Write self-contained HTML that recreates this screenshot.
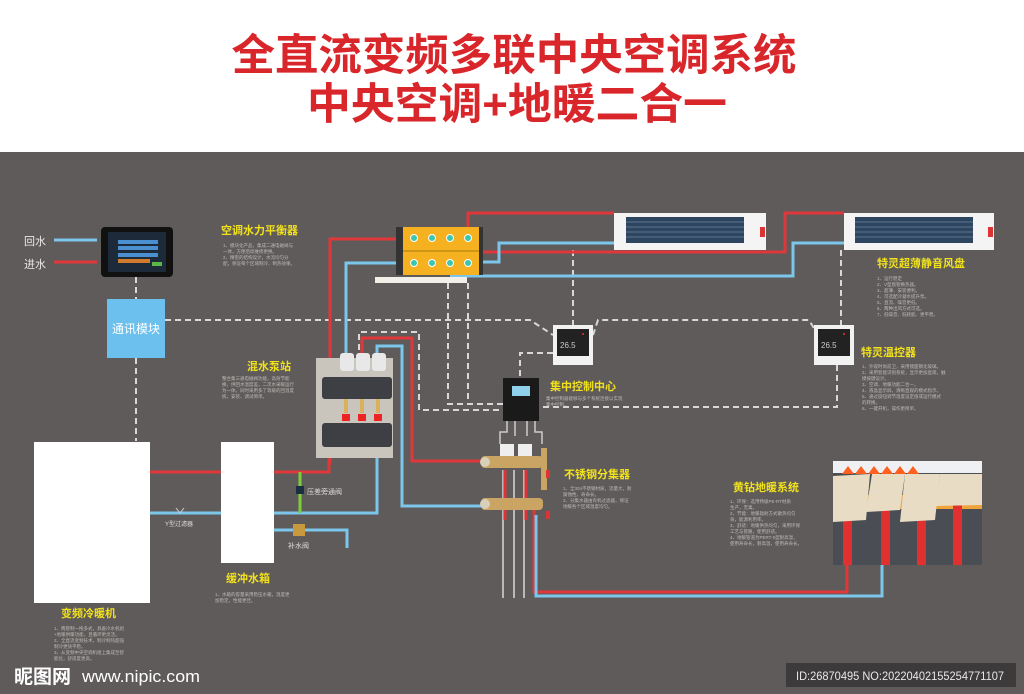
<!DOCTYPE html>
<html><head><meta charset="utf-8"><style>
html,body{margin:0;padding:0;background:#5f5b5a;}
svg{display:block;font-family:"Liberation Sans","Noto Sans CJK SC",sans-serif;}
.y{fill:#f2e21c;font-weight:bold;}
.s{fill:#bdbab8;font-size:4.5px;}
.d{stroke:#d8d8d8;stroke-width:2;stroke-dasharray:6,4;fill:none;}
.r{stroke:#e0373a;stroke-width:3;fill:none;}
.b{stroke:#7cc6ec;stroke-width:3;fill:none;}
</style></head><body>
<svg width="1024" height="694" viewBox="0 0 1024 694">
<rect width="1024" height="694" fill="#5f5b5a"/>
<rect width="1024" height="152" fill="#ffffff"/>
<text x="514" y="70" text-anchor="middle" font-size="43" fill="#d9262a" font-weight="bold" textLength="565" lengthAdjust="spacingAndGlyphs">全直流变频多联中央空调系统</text>
<text x="517" y="119" text-anchor="middle" font-size="43" fill="#d9262a" font-weight="bold" textLength="420" lengthAdjust="spacingAndGlyphs">中央空调+地暖二合一</text>

<!-- legend -->
<text x="24" y="245" font-size="11" fill="#e8e8e8">回水</text>
<text x="24" y="268" font-size="11" fill="#e8e8e8">进水</text>
<line x1="54" y1="240" x2="97" y2="240" class="b"/>
<line x1="54" y1="262" x2="97" y2="262" class="r"/>
<!-- tablet -->
<rect x="101" y="227" width="72" height="50" rx="4" fill="#111"/>
<rect x="108" y="232" width="58" height="40" fill="#1c2a3a"/>
<g fill="#4a8fd0"><rect x="118" y="240" width="40" height="4"/><rect x="118" y="246" width="40" height="4"/><rect x="118" y="253" width="40" height="4"/></g>
<g fill="#d07a30"><rect x="118" y="259" width="32" height="4"/></g><rect x="152" y="262" width="10" height="4" fill="#5ab84a"/>

<!-- dashed control lines -->
<path class="d" d="M136 277V299 M136 358V441"/>
<path class="d" d="M165 320H530L553 335"/>
<path class="d" d="M593 335L598 320H809L815 330"/>
<path class="d" d="M573 250V325 M841 250V325 M837 365V407H540"/>
<path class="d" d="M448 283V404H503 M468 283V400"/>
<path class="d" d="M553 353H520V378"/>
<path class="d" d="M359 360V332H419V410H503"/>
<rect x="107" y="299" width="58" height="59" fill="#6cc0ee"/>
<text x="136" y="333" text-anchor="middle" font-size="12" fill="#fff">通讯模块</text>

<!-- balancer pipes -->
<path class="r" d="M330 465V239H396"/>
<path class="b" d="M346 358V263H396"/>
<path class="r" d="M468 238V213H614"/>
<path class="r" d="M450 264V252H785V213H844"/>
<path class="b" d="M468 262H499V243H614"/>
<path class="b" d="M450 276H793V243H844"/>
<!-- balancer -->
<rect x="396" y="227" width="8" height="48" fill="#333"/>
<rect x="403" y="227" width="76" height="48" fill="#f5b120"/>
<line x1="403" y1="251" x2="479" y2="251" stroke="#a87a10"/>
<rect x="479" y="227" width="4" height="48" fill="#333"/>
<g fill="#3cc6b0" stroke="#fff" stroke-width="1"><circle cx="414" cy="238" r="3.5"/><circle cx="432" cy="238" r="3.5"/><circle cx="450" cy="238" r="3.5"/><circle cx="468" cy="238" r="3.5"/><circle cx="414" cy="263" r="3.5"/><circle cx="432" cy="263" r="3.5"/><circle cx="450" cy="263" r="3.5"/><circle cx="468" cy="263" r="3.5"/></g>
<rect x="375" y="277" width="92" height="6" fill="#f2efe8"/>
<text x="221" y="234" class="y" font-size="11">空调水力平衡器</text>
<text class="s"><tspan x="223" y="247">1、模块化产品，集成二通电磁阀与</tspan><tspan x="223" y="253">一体，方便后续维修更换。</tspan><tspan x="223" y="259">2、精密的结构设计，水流均匀分</tspan><tspan x="223" y="265">配，保证每个区域制冷、制热效果。</tspan></text>

<!-- fan coils -->
<g><rect x="614" y="213" width="152" height="37" fill="#f4f4f4"/><rect x="626" y="217" width="118" height="26" fill="#2e4560"/>
<g stroke="#5b7794" stroke-width="1"><line x1="626" y1="222" x2="744" y2="222"/><line x1="626" y1="227" x2="744" y2="227"/><line x1="626" y1="232" x2="744" y2="232"/><line x1="626" y1="237" x2="744" y2="237"/></g>
<rect x="760" y="227" width="5" height="10" fill="#d33"/></g>
<g><rect x="844" y="213" width="150" height="37" fill="#f4f4f4"/><rect x="855" y="217" width="118" height="26" fill="#2e4560"/>
<g stroke="#5b7794" stroke-width="1"><line x1="855" y1="222" x2="973" y2="222"/><line x1="855" y1="227" x2="973" y2="227"/><line x1="855" y1="232" x2="973" y2="232"/><line x1="855" y1="237" x2="973" y2="237"/></g>
<rect x="988" y="227" width="5" height="10" fill="#d33"/></g>
<text x="877" y="267" class="y" font-size="11">特灵超薄静音风盘</text>
<text class="s"><tspan x="877" y="280">1、运行稳定</tspan><tspan x="877" y="286">2、V型盘管换热器。</tspan><tspan x="877" y="292">3、超薄、安装便利。</tspan><tspan x="877" y="298">4、可选配冷凝水提升泵。</tspan><tspan x="877" y="304">5、直流、噪音更低。</tspan><tspan x="877" y="310">6、两种出风方式可选。</tspan><tspan x="877" y="316">7、低噪音、低耗能、更平稳。</tspan></text>

<!-- thermostats -->
<g><rect x="553" y="325" width="40" height="40" fill="#f2f2f2"/><rect x="557" y="329" width="32" height="27" fill="#222"/><text x="560" y="348" font-size="8" fill="#ccc">26.5</text><circle cx="583" cy="334" r="1" fill="#e33"/></g>
<g><rect x="814" y="325" width="40" height="40" fill="#f2f2f2"/><rect x="818" y="329" width="32" height="27" fill="#222"/><text x="821" y="348" font-size="8" fill="#ccc">26.5</text><circle cx="844" cy="334" r="1" fill="#e33"/></g>
<text x="861" y="356" class="y" font-size="11">特灵温控器</text>
<text class="s"><tspan x="862" y="368">1、外观时尚前卫，采用镜面钢化玻璃。</tspan><tspan x="862" y="374">2、采用智能识别系统，显示更加直观，触</tspan><tspan x="862" y="380">摸按键设计。</tspan><tspan x="862" y="386">3、空调、地暖功能二合一。</tspan><tspan x="862" y="392">4、液晶显示屏，清晰直观的模式指示。</tspan><tspan x="862" y="398">5、通过旋钮调节温度设定值或运行模式</tspan><tspan x="862" y="404">的转换。</tspan><tspan x="862" y="410">6、一键开机，操作更简单。</tspan></text>

<!-- control center -->
<rect x="503" y="378" width="36" height="43" fill="#1a1a1a"/>
<rect x="512" y="386" width="18" height="10" fill="#8fd0ea"/>
<text x="550" y="390" class="y" font-size="11">集中控制中心</text>
<text class="s"><tspan x="546" y="400">集中控制器能够与多个系统连接以实现</tspan><tspan x="546" y="406">集中控制。</tspan></text>
<path d="M507 421V432H500V444 M515 421V436 M527 421V436 M535 421V432H542V444" stroke="#ccc" stroke-width="1.5" fill="none"/>

<!-- mixing pipes -->
<path class="r" d="M362 360V338H412V461H481"/>
<path class="b" d="M377 360V346H402V506H481"/>
<!-- mixing station -->
<rect x="316" y="358" width="77" height="100" fill="#c9c4bc"/>
<rect x="322" y="377" width="70" height="22" rx="3" fill="#3d3f44"/>
<rect x="322" y="423" width="70" height="24" rx="3" fill="#3d3f44"/>
<g fill="#e8e8e8"><rect x="340" y="353" width="14" height="18" rx="3"/><rect x="356" y="353" width="14" height="18" rx="3"/><rect x="372" y="353" width="14" height="18" rx="3"/></g>
<g fill="#e22"><rect x="342" y="414" width="8" height="7"/><rect x="358" y="414" width="8" height="7"/><rect x="374" y="414" width="8" height="7"/></g>
<g fill="#d8b060"><rect x="344" y="399" width="4" height="14"/><rect x="360" y="399" width="4" height="14"/><rect x="376" y="399" width="4" height="14"/></g>
<text x="247" y="370" class="y" font-size="11">混水泵站</text>
<text class="s"><tspan x="222" y="380">整合集三通电磁阀功能，高效节能</tspan><tspan x="222" y="386">换，供回水温度差，二次水采暖运行</tspan><tspan x="222" y="392">为一体。同时采用多了等级的回温度</tspan><tspan x="222" y="398">统，安装、调试简单。</tspan></text>

<!-- chiller & buffer -->
<rect x="34" y="442" width="116" height="161" fill="#fff"/>
<rect x="221" y="442" width="53" height="121" fill="#fff"/>
<path class="r" d="M150 472H221 M274 472H329V458"/>
<path class="b" d="M150 513H221 M274 513H377V458"/>
<path class="b" d="M274 530H347V548"/>
<line x1="300" y1="472" x2="300" y2="513" stroke="#7ccf3a" stroke-width="3"/>
<rect x="296" y="486" width="8" height="8" fill="#1a3040"/>
<text x="307" y="494" font-size="7" fill="#ddd">压差旁通阀</text>
<rect x="293" y="524" width="12" height="12" fill="#c89a40"/>
<text x="288" y="548" font-size="7" fill="#ddd">补水阀</text>
<path d="M176 508l4 5 4-5" stroke="#ccc" fill="none"/>
<text x="165" y="526" font-size="6" fill="#ddd">Y型过滤器</text>
<text x="61" y="617" class="y" font-size="11">变频冷暖机</text>
<text class="s"><tspan x="54" y="630">1、两管制一拖多式，具备冷水机组</tspan><tspan x="54" y="636">+地暖供暖功能，且循环更灵活。</tspan><tspan x="54" y="642">2、全直流变频技术，制冷制热超强</tspan><tspan x="54" y="648">制冷更快平稳。</tspan><tspan x="54" y="654">3、从变频中央空调机组上集成至智</tspan><tspan x="54" y="660">能化，舒适度更高。</tspan></text>
<text x="226" y="582" class="y" font-size="11">缓冲水箱</text>
<text class="s"><tspan x="215" y="596">1、水箱的容量采用稳压水箱，温度更</tspan><tspan x="215" y="602">加稳定，性能更佳。</tspan></text>

<!-- manifold -->
<path d="M503 470V598 M514 470V598 M524 470V598" stroke="#b9b9b9" stroke-width="2" fill="none"/>
<path d="M505 470V520 M526 470V520" stroke="#e03333" stroke-width="3"/>
<path class="r" d="M534 510V592H847V564" stroke-width="2"/>
<path class="b" d="M536 515V596H882V564" stroke-width="2"/>
<rect x="481" y="456" width="62" height="12" rx="4" fill="#c9a463"/>
<rect x="481" y="498" width="62" height="12" rx="4" fill="#c9a463"/>
<circle cx="485" cy="462" r="5" fill="#d8cfb8"/><circle cx="485" cy="504" r="5" fill="#d8cfb8"/>
<rect x="500" y="444" width="14" height="12" fill="#eee"/><rect x="518" y="444" width="14" height="12" fill="#eee"/>
<rect x="541" y="448" width="6" height="42" fill="#c9a463"/>
<rect x="546" y="470" width="4" height="8" fill="#d33"/><rect x="546" y="511" width="4" height="8" fill="#d33"/>
<text x="564" y="478" class="y" font-size="11">不锈钢分集器</text>
<text class="s"><tspan x="563" y="490">1、全304不锈钢材质，流量大，耐</tspan><tspan x="563" y="496">腐蚀性，寿命长。</tspan><tspan x="563" y="502">2、分集水器由有机过滤器，保证</tspan><tspan x="563" y="508">地暖各个区域温度均匀。</tspan></text>

<!-- floor heating -->
<text x="733" y="491" class="y" font-size="11">黄钻地暖系统</text>
<text class="s"><tspan x="730" y="503">1、环保：选用特级PE-RT材质</tspan><tspan x="730" y="509">生产，无毒。</tspan><tspan x="730" y="515">2、节能：地暖辐射方式散热均匀</tspan><tspan x="730" y="521">效，能源利用率。</tspan><tspan x="730" y="527">3、舒适：地暖供热均匀，采用环保</tspan><tspan x="730" y="533">工艺与管路，使用舒适。</tspan><tspan x="730" y="539">4、地暖管道为PERT-II型耐高温，</tspan><tspan x="730" y="545">使用寿命长，耐高温，使用寿命长。</tspan></text>
<rect x="833" y="461" width="149" height="104" fill="#4a4e54"/>
<rect x="833" y="461" width="149" height="12" fill="#eef0f4"/>
<rect x="833" y="495" width="149" height="14" fill="#f0a33a"/>
<g fill="#e03030"><rect x="843" y="505" width="9" height="60"/><rect x="881" y="505" width="9" height="60"/><rect x="917" y="505" width="9" height="60"/><rect x="953" y="505" width="9" height="60"/></g>
<g fill="#e8dcc4"><polygon points="833,476 870,474 866,520 833,522"/><polygon points="872,474 905,474 900,510 866,512"/><polygon points="905,474 940,474 935,520 900,522"/><polygon points="940,474 982,474 982,505 936,506"/></g>
<g fill="#ff6020"><polygon points="842,474 848,466 854,474"/><polygon points="855,474 861,466 867,474"/><polygon points="868,474 874,466 880,474"/><polygon points="881,474 887,466 893,474"/><polygon points="894,474 900,466 906,474"/><polygon points="907,474 913,466 919,474"/></g>

<!-- watermarks -->
<text x="14" y="683" font-size="19" fill="#fff" font-weight="bold">昵图网</text>
<text x="82" y="682" font-size="17" fill="#fff" textLength="118" lengthAdjust="spacingAndGlyphs">www.nipic.com</text>
<rect x="786" y="663" width="230" height="24" fill="#3c3a3a"/>
<text x="796" y="680" font-size="12" fill="#e8e8e8" textLength="208" lengthAdjust="spacingAndGlyphs">ID:26870495 NO:20220402155254771107</text>
</svg>
</body></html>
